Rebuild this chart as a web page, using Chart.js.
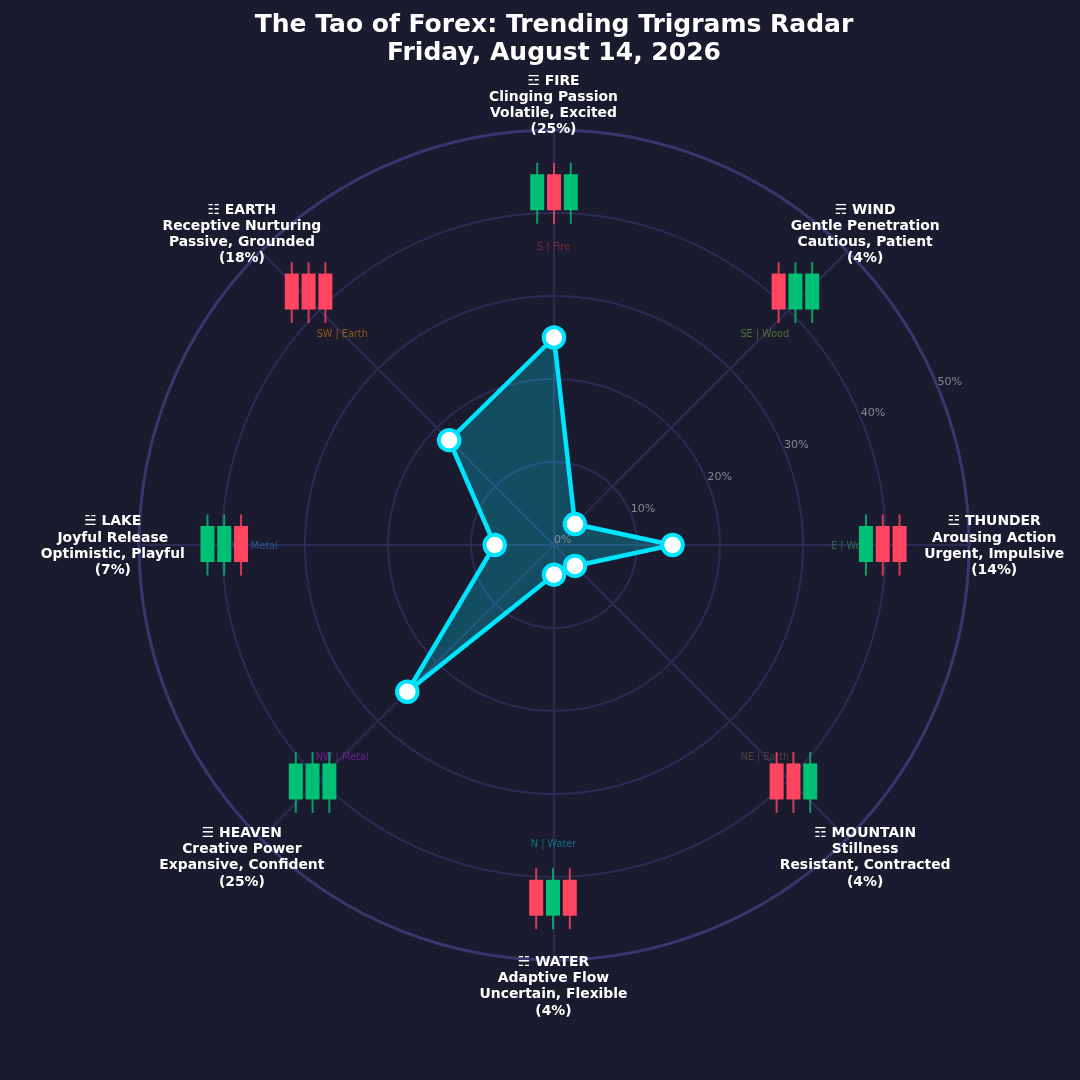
<!DOCTYPE html>
<html lang="en">
<head>
  <meta charset="UTF-8" />
  <title>The Tao of Forex: Trending Trigrams Radar</title>
  <script src="https://cdn.jsdelivr.net/npm/chart.js"></script>
  <style>
    html, body { margin: 0; padding: 0; background: #1a1b2e; }
    canvas { display: block; }
  </style>
</head>
<body>
<canvas id="radar" width="1080" height="1080"></canvas>

<script>
  const titleLines = ['The Tao of Forex: Trending Trigrams Radar', 'Friday, August 14, 2026'];

  // clockwise from the top
  const trigrams = ['☲ FIRE', '☴ WIND', '☳ THUNDER', '☶ MOUNTAIN', '☵ WATER', '☰ HEAVEN', '☱ LAKE', '☷ EARTH'];
  const meanings = ['Clinging Passion', 'Gentle Penetration', 'Arousing Action', 'Stillness', 'Adaptive Flow', 'Creative Power', 'Joyful Release', 'Receptive Nurturing'];
  const moods = ['Volatile, Excited', 'Cautious, Patient', 'Urgent, Impulsive', 'Resistant, Contracted', 'Uncertain, Flexible', 'Expansive, Confident', 'Optimistic, Playful', 'Passive, Grounded'];
  const sectors = ['S | Fire', 'SE | Wood', 'E | Wood', 'NE | Earth', 'N | Water', 'NW | Metal', 'W | Metal', 'SW | Earth'];
  const shares = [25, 3.57, 14.29, 3.57, 3.57, 25, 7.14, 17.86];
  const radialTicks = [0, 10, 20, 30, 40, 50];

  // 1 = up candle, 0 = down candle
  const candles = [
    [1, 0, 1], [0, 1, 1], [1, 0, 0], [0, 0, 1],
    [0, 1, 0], [1, 1, 1], [1, 1, 0], [0, 0, 0]
  ];

  const sectorColors = ['#822a3e', '#507036', '#2f6a4c', '#503c44', '#0d6f85', '#6a2292', '#265a96', '#965c1e'];
  const candleNudge = [[0, 0], [-8, -4], [-24, -1], [-10, -13], [-1, 0], [8, -13], [23, -1], [4, -4]];

  const BG = '#1a1b2e';
  const UP = '#00c076';
  const DOWN = '#ff4560';
  const FONT = "'DejaVu Sans', sans-serif";

  // tick labels, sector names, candles and trigram labels all sit on the radial scale
  const overlay = {
    id: 'overlay',
    beforeDraw(chart) {
      const ctx = chart.ctx;
      ctx.save();
      ctx.fillStyle = BG;
      ctx.fillRect(0, 0, chart.width, chart.height);
      ctx.restore();
    },
    afterDatasetsDraw(chart) {
      const ctx = chart.ctx;
      const r = chart.scales.r;
      ctx.save();

      ctx.font = '11.1px ' + FONT;
      ctx.fillStyle = '#85858f';
      ctx.textAlign = 'left';
      ctx.textBaseline = 'bottom';
      radialTicks.forEach(t => {
        const p = r.getPointPosition(1, r.getDistanceFromCenterForValue(t), Math.PI / 8);
        ctx.fillText(t + '%', p.x, p.y + 1);
      });

      ctx.font = '9.7px ' + FONT;
      ctx.textAlign = 'center';
      ctx.textBaseline = 'middle';
      sectors.forEach((s, i) => {
        const p = r.getPointPositionForValue(i, 36);
        ctx.fillStyle = sectorColors[i];
        ctx.fillText(s, p.x - 0.5, p.y + 1);
      });

      candles.forEach((set, i) => {
        const p = r.getPointPositionForValue(i, 42.5);
        const cx = p.x + candleNudge[i][0];
        const cy = p.y + candleNudge[i][1];
        set.forEach((up, k) => {
          const x = cx + (k - 1) * 16.8;
          ctx.fillStyle = up ? UP : DOWN;
          ctx.globalAlpha = 0.8;
          ctx.fillRect(x - 1, cy - 29.5, 2, 61);
          ctx.globalAlpha = 1;
          ctx.fillRect(x - 7, cy - 18, 14, 36);
        });
      });

      ctx.fillStyle = '#ffffff';
      ctx.font = 'bold 13.9px ' + FONT;
      trigrams.forEach((name, i) => {
        const p = r.getPointPositionForValue(i, 53.1);
        const lines = [name, meanings[i], moods[i], '(' + Math.round(shares[i]) + '%)'];
        lines.forEach((line, k) => {
          ctx.fillText(line, p.x - 0.5, p.y + 1 + (k - 1.5) * 16.2);
        });
      });
      ctx.restore();
    }
  };

  new Chart(document.getElementById('radar'), {
    type: 'radar',
    plugins: [overlay],
    data: {
      labels: trigrams,
      datasets: [{
        data: shares,
        borderColor: '#00e5ff',
        borderWidth: 4.5,
        backgroundColor: 'rgba(0, 229, 255, 0.25)',
        fill: true,
        tension: 0,
        pointRadius: 10.25,
        pointBorderWidth: 4,
        pointBackgroundColor: '#ffffff',
        pointBorderColor: '#00e5ff'
      }]
    },
    options: {
      responsive: false,
      animation: false,
      devicePixelRatio: 1,
      layout: { padding: { left: 139, right: 111, top: 11, bottom: 117 } },
      plugins: {
        legend: { display: false },
        tooltip: { enabled: false },
        title: {
          display: true,
          text: titleLines,
          color: '#ffffff',
          fullSize: false,
          font: { family: FONT, size: 25, weight: 'bold', lineHeight: 1.12 },
          padding: { top: 0, bottom: 60 }
        }
      },
      scales: {
        r: {
          min: 0,
          max: 50,
          ticks: { display: false, stepSize: 10 },
          pointLabels: { display: false },
          angleLines: { color: '#2d2b55', lineWidth: 2 },
          grid: {
            circular: true,
            color: c => c.tick.value === 50 ? '#3a3670' : '#2d2b55',
            lineWidth: c => c.tick.value === 50 ? 3 : 2
          }
        }
      }
    }
  });
</script>
</body>
</html>
